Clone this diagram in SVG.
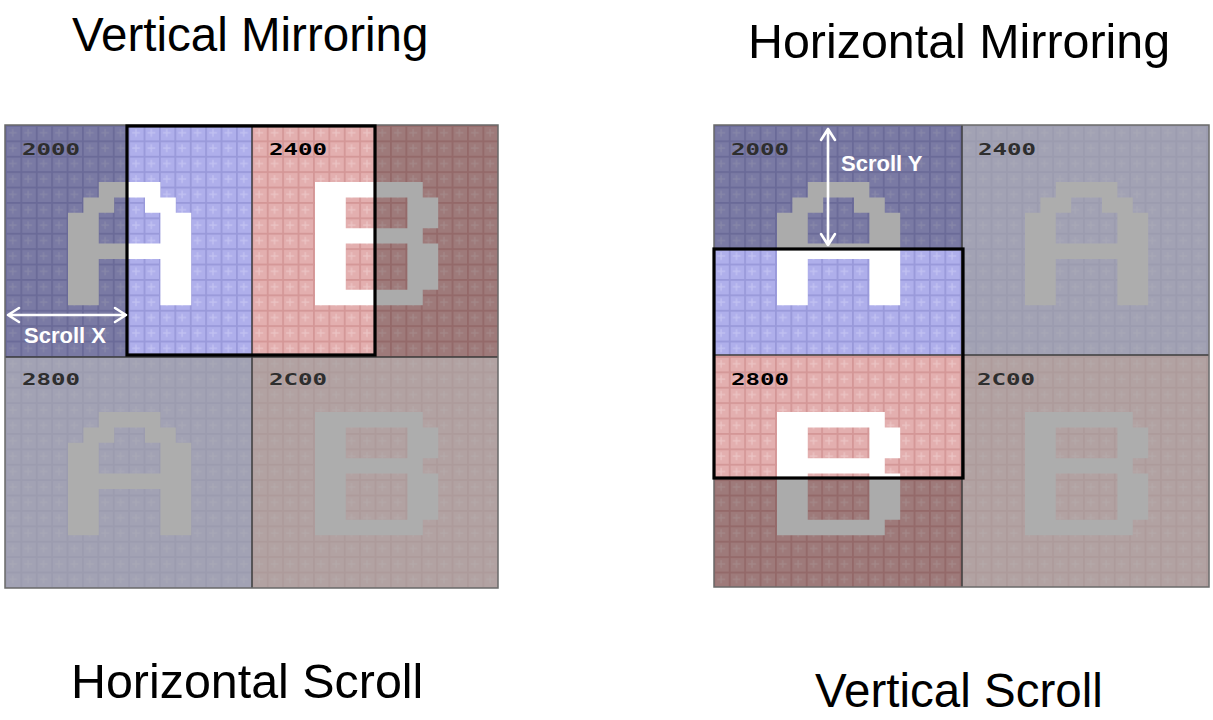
<svg xmlns="http://www.w3.org/2000/svg" width="1213" height="720" viewBox="0 0 1213 720">
<style>
.title{font-family:"Liberation Sans",Arial,Helvetica,sans-serif;font-size:47.5px;fill:#000}
.title-h{font-size:48.4px}
.addr{font-family:"DejaVu Sans Mono","Liberation Mono",monospace;font-weight:bold;font-size:16px}
.dimlab{fill:#2e2e2e}
.hilab{fill:#000}
.scroll{font-family:"Liberation Sans",Arial,Helvetica,sans-serif;font-weight:bold;font-size:22px;fill:#fff}
.dim{fill:#000;fill-opacity:0.3}
.gray{fill:#9c9c9c;fill-opacity:0.7}
.div{stroke:#3c3c3c;stroke-width:1.5;fill:none}
.outer{stroke:#6a6a6a;stroke-width:1.5;fill:none}
.view{stroke:#000;stroke-width:3.2;fill:none}
.arrow{stroke:#fff;stroke-width:2.6;fill:none;stroke-linecap:round;stroke-linejoin:round}
</style>
<defs>
<pattern id="pBlue" patternUnits="userSpaceOnUse" x="5" y="125" width="15.4" height="15.4">
<rect width="15.4" height="15.4" fill="#afafeb"/>
<rect width="15.4" height="1.8" fill="#9999da"/>
<rect width="1.8" height="15.4" fill="#9999da"/>
<rect x="7.1" y="4" width="1.3" height="7.8" fill="#c2c2f2"/>
<rect x="4" y="7.1" width="7.8" height="1.3" fill="#c2c2f2"/>
</pattern>
<pattern id="pPink" patternUnits="userSpaceOnUse" x="5" y="125" width="15.4" height="15.4">
<rect width="15.4" height="15.4" fill="#e3afaf"/>
<rect width="15.4" height="1.8" fill="#d49797"/>
<rect width="1.8" height="15.4" fill="#d49797"/>
<rect x="7.1" y="4" width="1.3" height="7.8" fill="#ecc4c4"/>
<rect x="4" y="7.1" width="7.8" height="1.3" fill="#ecc4c4"/>
</pattern>
<path id="glyphA" fill-rule="evenodd" d="M2,0H6V1H7V2H8V8H6V5H2V8H0V2H1V1H2Z M3,1H5V2H6V4H2V2H3Z"/>
<path id="glyphB" fill-rule="evenodd" d="M0,0H7V1H8V3H7V4H8V7H7V8H0Z M2,1H6V3H2Z M2,4H6V7H2Z"/>
<clipPath id="clipL"><rect x="127" y="125" width="248" height="231"/></clipPath>
<clipPath id="clipR"><rect x="714" y="249" width="249" height="229"/></clipPath>
</defs>
<rect width="1213" height="720" fill="#fff"/>

<g id="titles">
<text class="title" x="72" y="51">Vertical Mirroring</text>
<text class="title title-h" x="748" y="58">Horizontal Mirroring</text>
<text class="title title-h" x="71" y="698">Horizontal Scroll</text>
<text class="title" x="815" y="707">Vertical Scroll</text>
</g>

<!-- LEFT PANEL: Vertical Mirroring / Horizontal Scroll -->
<g id="left-panel">
<g id="L-2000">
<rect x="5" y="125" width="247" height="232" fill="url(#pBlue)"/>
<rect x="5" y="125" width="247" height="232" class="dim"/>
<use href="#glyphA" transform="translate(68,182) scale(15.4)" fill="#ababab"/>
<text class="addr dimlab" x="22" y="155" textLength="58" lengthAdjust="spacingAndGlyphs">2000</text>
</g>
<g id="L-2400">
<rect x="252" y="125" width="246" height="232" fill="url(#pPink)"/>
<rect x="252" y="125" width="246" height="232" class="dim"/>
<use href="#glyphB" transform="translate(315,182) scale(15.4)" fill="#ababab"/>
</g>
<g id="L-2800">
<rect x="5" y="357" width="247" height="231" fill="url(#pBlue)"/>
<rect x="5" y="357" width="247" height="231" class="gray"/>
<use href="#glyphA" transform="translate(68,412) scale(15.4)" fill="#adadad"/>
<text class="addr dimlab" x="22" y="385" textLength="58" lengthAdjust="spacingAndGlyphs">2800</text>
</g>
<g id="L-2C00">
<rect x="252" y="357" width="246" height="231" fill="url(#pPink)"/>
<rect x="252" y="357" width="246" height="231" class="gray"/>
<use href="#glyphB" transform="translate(315,412) scale(15.4)" fill="#adadad"/>
<text class="addr dimlab" x="269" y="385" textLength="58" lengthAdjust="spacingAndGlyphs">2C00</text>
</g>
<g id="L-viewport">
<rect x="127" y="125" width="125" height="231" fill="url(#pBlue)"/>
<rect x="252" y="125" width="123" height="231" fill="url(#pPink)"/>
<g clip-path="url(#clipL)" fill="#fff">
<use href="#glyphA" transform="translate(68,182) scale(15.4)"/>
<use href="#glyphB" transform="translate(315,182) scale(15.4)"/>
</g>
<text class="addr hilab" x="269" y="155" textLength="58" lengthAdjust="spacingAndGlyphs">2400</text>
</g>
<path class="div" d="M252,125V588 M5,357H498"/>
<rect class="outer" x="5" y="125" width="493" height="463"/>
<rect class="view" x="127" y="126" width="248" height="229"/>
</g>

<!-- RIGHT PANEL: Horizontal Mirroring / Vertical Scroll -->
<g id="right-panel">
<g id="R-2000">
<rect x="714" y="125" width="248" height="230" fill="url(#pBlue)"/>
<rect x="714" y="125" width="248" height="230" class="dim"/>
<use href="#glyphA" transform="translate(777,182) scale(15.4)" fill="#ababab"/>
<text class="addr dimlab" x="731" y="155" textLength="58" lengthAdjust="spacingAndGlyphs">2000</text>
</g>
<g id="R-2400">
<rect x="962" y="125" width="247" height="230" fill="url(#pBlue)"/>
<rect x="962" y="125" width="247" height="230" class="gray"/>
<use href="#glyphA" transform="translate(1025,182) scale(15.4)" fill="#adadad"/>
<text class="addr dimlab" x="978" y="155" textLength="58" lengthAdjust="spacingAndGlyphs">2400</text>
</g>
<g id="R-2800">
<rect x="714" y="355" width="248" height="232" fill="url(#pPink)"/>
<rect x="714" y="355" width="248" height="232" class="dim"/>
<use href="#glyphB" transform="translate(777,412) scale(15.4)" fill="#ababab"/>
</g>
<g id="R-2C00">
<rect x="962" y="355" width="247" height="232" fill="url(#pPink)"/>
<rect x="962" y="355" width="247" height="232" class="gray"/>
<use href="#glyphB" transform="translate(1025,412) scale(15.4)" fill="#adadad"/>
<text class="addr dimlab" x="977" y="385" textLength="58" lengthAdjust="spacingAndGlyphs">2C00</text>
</g>
<g id="R-viewport">
<rect x="714" y="249" width="248" height="106" fill="url(#pBlue)"/>
<rect x="714" y="355" width="248" height="123" fill="url(#pPink)"/>
<g clip-path="url(#clipR)" fill="#fff">
<use href="#glyphA" transform="translate(777,182) scale(15.4)"/>
<use href="#glyphB" transform="translate(777,412) scale(15.4)"/>
</g>
<text class="addr hilab" x="731" y="385" textLength="58" lengthAdjust="spacingAndGlyphs">2800</text>
</g>
<path class="div" d="M962,125V587 M714,355H1209"/>
<rect class="outer" x="714" y="125" width="495" height="462"/>
<rect class="view" x="714" y="249" width="249" height="229"/>
</g>

<g id="connectors">
<g id="scroll-x">
<path class="arrow" d="M8,315H126 M19,308L8,315L19,322 M115,308L126,315L115,322"/>
<text class="scroll" x="24" y="343">Scroll X</text>
</g>
<g id="scroll-y">
<path class="arrow" d="M828,129V245 M821,140L828,129L835,140 M821,234L828,245L835,234"/>
<text class="scroll" x="841" y="171">Scroll Y</text>
</g>
</g>
</svg>
